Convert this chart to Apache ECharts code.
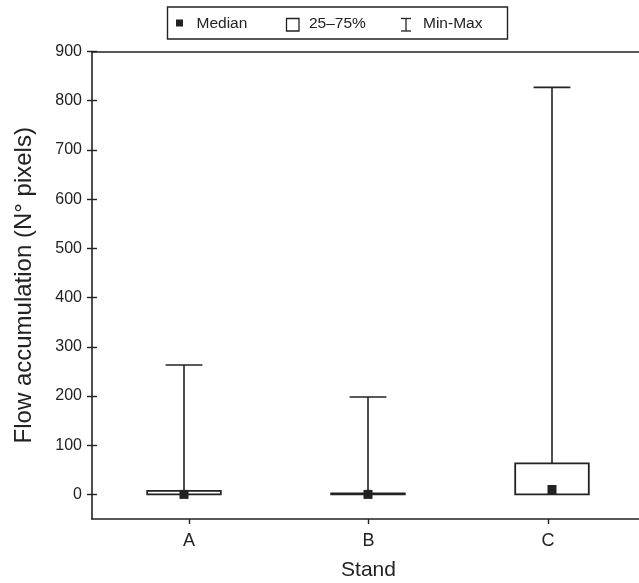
<!DOCTYPE html>
<html>
<head>
<meta charset="utf-8">
<script src="https://cdn.jsdelivr.net/npm/echarts@6/dist/echarts.min.js"></script>
<style>
html,body{margin:0;padding:0;background:#fff;}
#chart{width:639px;height:583px;}
</style>
</head>
<body>
<div id="chart"></div>
<script>
// ---- data ----
const categories = ['A', 'B', 'C'];
const minVals    = [0, 0, 0];
const q1Vals     = [0, 0, 0];
const medianVals = [0, 0, 10];
const q3Vals     = [7, 2, 63];
const maxVals    = [263, 198, 827];
const yTickValues = [0, 100, 200, 300, 400, 500, 600, 700, 800, 900];
const yMin = -50, yMax = 900;
const legendLabels = ['Median', '25\u201375%', 'Min-Max'];
const xTitle = 'Stand';
const yTitle = 'Flow accumulation (N\u00b0 pixels)';

const FONT = '"Liberation Sans", Arial, Helvetica, sans-serif';
const INK = '#222';

const boxData = categories.map((c, i) => [i, minVals[i], q1Vals[i], medianVals[i], q3Vals[i], maxVals[i]]);

function renderBox(params, api) {
  const i = api.value(0);
  const band = api.size([1, 0])[0];
  const boxW = band * 0.4;
  const capW = band * 0.2;
  const pMin = api.coord([i, api.value(1)]);
  const pQ1 = api.coord([i, api.value(2)]);
  const pMed = api.coord([i, api.value(3)]);
  const pQ3 = api.coord([i, api.value(4)]);
  const pMax = api.coord([i, api.value(5)]);
  const x = pQ1[0];
  const lineStyle = { stroke: INK, lineWidth: 1.6, fill: null };
  const sq = 9;
  return {
    type: 'group',
    children: [
      { type: 'line', shape: { x1: x, y1: pQ3[1], x2: x, y2: pMax[1] }, style: lineStyle },
      { type: 'line', shape: { x1: x - capW / 2, y1: pMax[1], x2: x + capW / 2, y2: pMax[1] }, style: lineStyle },
      { type: 'line', shape: { x1: x, y1: pMin[1], x2: x, y2: pQ1[1] }, style: lineStyle },
      { type: 'rect', shape: { x: x - boxW / 2, y: pQ3[1], width: boxW, height: Math.max(pQ1[1] - pQ3[1], 0.5) },
        style: { stroke: INK, lineWidth: 1.8, fill: '#fff' } },
      { type: 'rect', shape: { x: x - sq / 2, y: pMed[1] - sq / 2, width: sq, height: sq },
        style: { fill: INK, stroke: null } }
    ]
  };
}

const chart = echarts.init(document.getElementById('chart'), null, { renderer: 'canvas' });

const axisTextStyle = { color: INK, fontFamily: FONT };

const option = {
  backgroundColor: '#fff',
  animation: false,
  textStyle: { fontFamily: FONT },
  grid: [
    { left: 92, top: 51.5, width: 552, height: 467.5, outerBoundsMode: 'none', containLabel: false },
    { left: 99.25, top: 51.5, width: 538.5, height: 467.5, outerBoundsMode: 'none', containLabel: false }
  ],
  xAxis: [
    { type: 'category', gridIndex: 0, data: categories, position: 'bottom',
      axisLine: { show: true, onZero: false, lineStyle: { color: INK, width: 1.6 } },
      axisTick: { show: false }, axisLabel: { show: false }, splitLine: { show: false } },
    { type: 'category', gridIndex: 0, data: categories, position: 'top',
      axisLine: { show: true, onZero: false, lineStyle: { color: INK, width: 1.6 } },
      axisTick: { show: false }, axisLabel: { show: false }, splitLine: { show: false } },
    { type: 'category', gridIndex: 1, data: categories, position: 'bottom',
      axisLine: { show: false, onZero: false },
      axisTick: { show: true, alignWithLabel: true, length: 5, lineStyle: { color: INK, width: 1.4 } },
      axisLabel: Object.assign({ fontSize: 18, margin: 13 }, axisTextStyle),
      name: xTitle, nameLocation: 'middle', nameGap: 41,
      nameTextStyle: Object.assign({ fontSize: 21 }, axisTextStyle),
      splitLine: { show: false } }
  ],
  yAxis: [
    { type: 'value', gridIndex: 0, position: 'left', min: yMin, max: yMax,
      axisLine: { show: true, onZero: false, lineStyle: { color: INK, width: 1.6 } },
      axisTick: { show: true, length: 5, customValues: yTickValues, lineStyle: { color: INK, width: 1.4 } },
      axisLabel: Object.assign({ fontSize: 16, margin: 10, customValues: yTickValues }, axisTextStyle),
      splitLine: { show: false },
      name: yTitle, nameLocation: 'middle', nameGap: 56, nameRotate: 90,
      nameTextStyle: Object.assign({ fontSize: 24 }, axisTextStyle) },
    { type: 'value', gridIndex: 0, position: 'left', min: yMin, max: yMax,
      axisLine: { show: false, onZero: false },
      axisTick: { show: true, inside: true, length: 5, customValues: yTickValues, lineStyle: { color: INK, width: 1.4 } },
      axisLabel: { show: false }, splitLine: { show: false } },
    { type: 'value', gridIndex: 0, position: 'right', min: yMin, max: yMax,
      axisLine: { show: true, onZero: false, lineStyle: { color: INK, width: 1.6 } },
      axisTick: { show: true, inside: true, length: 5, customValues: yTickValues, lineStyle: { color: '#bbb', width: 1 } },
      axisLabel: { show: false }, splitLine: { show: false } },
    { type: 'value', gridIndex: 1, min: yMin, max: yMax, show: false }
  ],
  series: [
    { type: 'custom', name: 'Box', xAxisIndex: 0, yAxisIndex: 0,
      renderItem: renderBox, data: boxData, encode: { x: 0, y: [1, 2, 3, 4, 5] }, z: 10 }
  ],
  graphic: [
    { type: 'rect', shape: { x: 167.5, y: 7, width: 340, height: 32 },
      style: { fill: '#fff', stroke: INK, lineWidth: 1.4 } },
    { type: 'rect', shape: { x: 176, y: 19.5, width: 7, height: 7 }, style: { fill: INK } },
    { type: 'text', x: 196.5, y: 23.5, style: { text: legendLabels[0], font: '15.5px ' + FONT, fill: INK, verticalAlign: 'middle' } },
    { type: 'rect', shape: { x: 286.5, y: 18.5, width: 12.5, height: 12.5 }, style: { fill: '#fff', stroke: INK, lineWidth: 1.3 } },
    { type: 'text', x: 309, y: 23.5, style: { text: legendLabels[1], font: '15.5px ' + FONT, fill: INK, verticalAlign: 'middle' } },
    { type: 'polyline', shape: { points: [[401, 18.5], [411, 18.5]] }, style: { stroke: INK, lineWidth: 1.3 } },
    { type: 'polyline', shape: { points: [[406, 18.5], [406, 31]] }, style: { stroke: INK, lineWidth: 1.3 } },
    { type: 'polyline', shape: { points: [[401, 31], [411, 31]] }, style: { stroke: INK, lineWidth: 1.3 } },
    { type: 'text', x: 423, y: 23.5, style: { text: legendLabels[2], font: '15.5px ' + FONT, fill: INK, verticalAlign: 'middle' } }
  ]
};

chart.setOption(option);
</script>
</body>
</html>
